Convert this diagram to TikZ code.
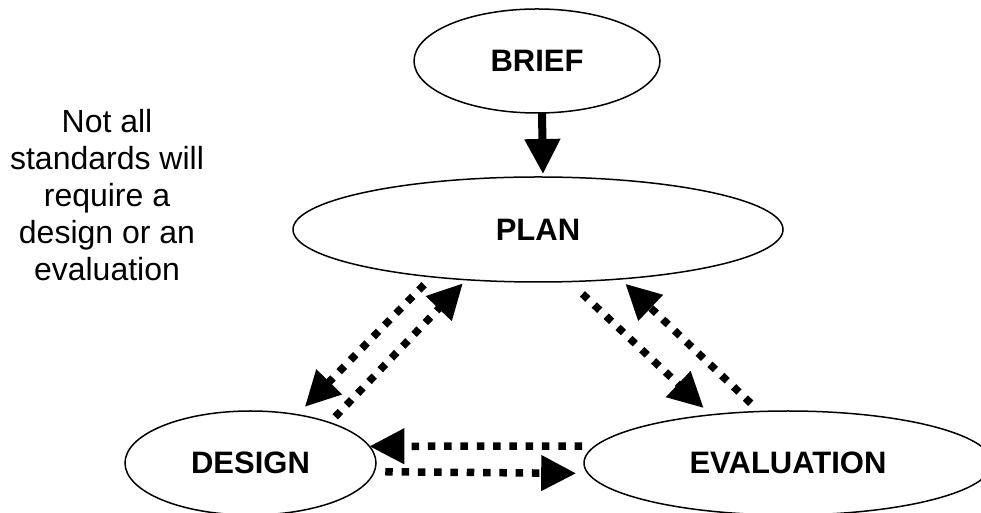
\documentclass[tikz,border=0pt]{standalone}
\usepackage{fontspec}
\setmainfont{Liberation Sans}
\usetikzlibrary{arrows.meta,shapes.geometric}
\tikzset{
    >={Triangle[length=35pt,width=34pt]},
    cycle/.style={
        stage/.append style={draw,line width=1.5pt,ellipse,inner sep=0pt,outer sep=0pt,font=\bfseries\fontsize{31}{37}\selectfont},
        note/.append style={align=center,inner sep=0pt,font=\fontsize{32}{37}\selectfont},
        mainflow/.append style={line width=8pt,->,shorten >=3pt},
        dotflow/.append style={line width=7.5pt,dash pattern=on 7.5pt off 8.8pt,->}
    }
}

\begin{document}
\begin{tikzpicture}[cycle,x=1pt,y=1pt]
    \path[use as bounding box,fill=white] (0,0) rectangle (981,513);
    \node[stage,minimum width=246pt,minimum height=104pt] (brief) at (537,452) {BRIEF};
    \node[stage,minimum width=490pt,minimum height=105pt] (plan) at (538,283.5) {PLAN};
    \node[stage,minimum width=251pt,minimum height=104pt] (design) at (250.5,50) {DESIGN};
    \node[stage,minimum width=408pt,minimum height=104pt] (evaluation) at (788,50) {EVALUATION};
    \node[note] (remark) at (107,318) {Not all\\standards will\\require a\\design or an\\evaluation};

    \draw[mainflow] ([xshift=5pt]brief.south) -- ([xshift=5pt]plan.north);

    % plan <-> design
    \draw[dotflow,shorten <=11pt,shorten >=11pt] (plan.204) -- (design.46);
    \draw[dotflow,shorten <=8pt,shorten >=5pt] (design.27) -- (plan.215);
    % plan <-> evaluation
    \draw[dotflow,shorten <=18pt,shorten >=10pt] (plan.301) -- (evaluation.148);
    \draw[dotflow,shorten <=12pt,shorten >=7pt] (evaluation.119) -- (plan.329);
    % design <-> evaluation
    \draw[dotflow,shorten <=13pt] (evaluation.175) -- (design.8);
    \draw[dotflow,shorten <=11pt,shorten >=12pt] (design.356) -- (evaluation.183);
\end{tikzpicture}
\end{document}
